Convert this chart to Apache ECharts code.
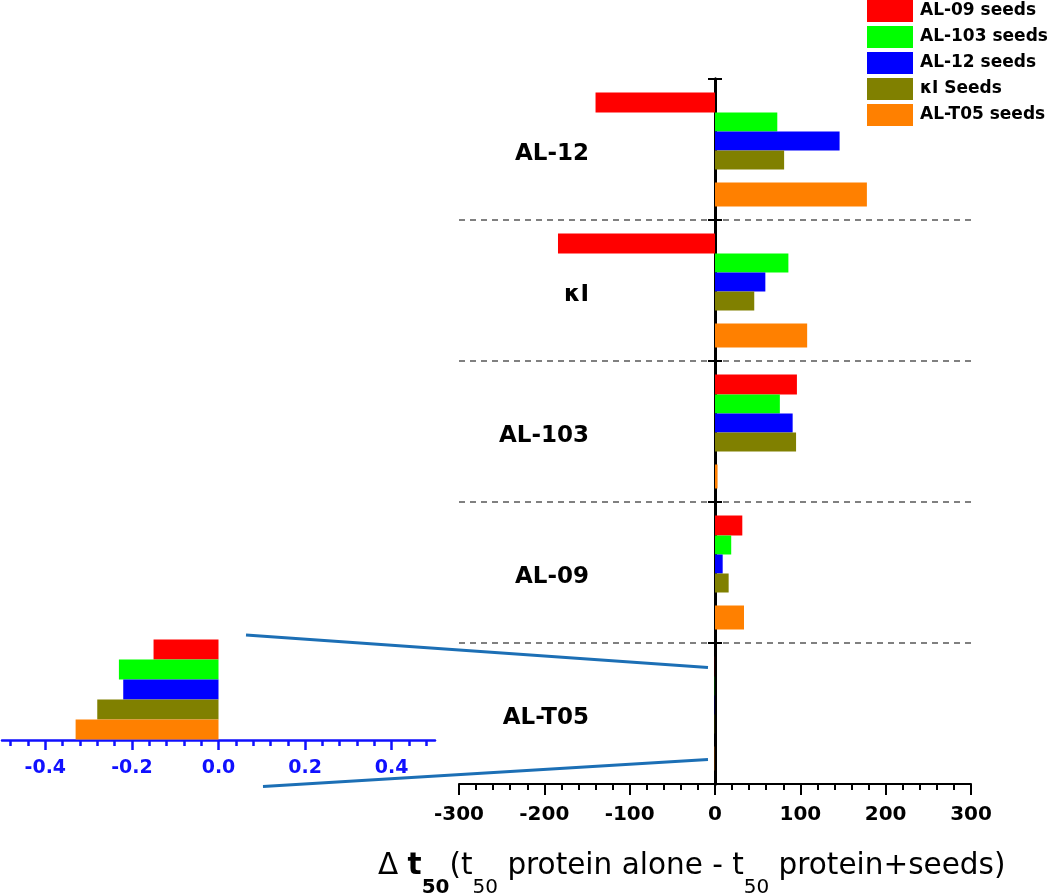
<!DOCTYPE html>
<html><head><meta charset="utf-8">
<script src="https://cdn.jsdelivr.net/npm/echarts@6/dist/echarts.min.js"></script>
<style>html,body{margin:0;padding:0;background:#fff}#c{width:1050px;height:894px}</style>
</head><body><div id="c"></div>
<script>
// ---- data ----
const categories = ['AL-12', 'κI', 'AL-103', 'AL-09', 'AL-T05'];
const seriesNames = ['AL-09 seeds', 'AL-103 seeds', 'AL-12 seeds', 'κI Seeds', 'AL-T05 seeds'];
const al09Seeds  = [-140, -184, 96, 32, -0.15];
const al103Seeds = [73, 86, 76, 19, -0.23];
const al12Seeds  = [146, 59, 91, 9, -0.22];
const kISeeds    = [81, 46, 95, 16, -0.28];
const alT05Seeds = [178, 108, 3, 34, -0.33];
const insetMinorTicks = [-0.48, -0.44, -0.4, -0.36, -0.32, -0.28, -0.24, -0.2, -0.16, -0.12, -0.08, -0.04, 0,
                         0.04, 0.08, 0.12, 0.16, 0.2, 0.24, 0.28, 0.32, 0.36, 0.4, 0.44, 0.48];
const insetMajorTicks = [-0.4, -0.2, 0, 0.2, 0.4];

// ---- styles ----
const FONT = 'DejaVu Sans';
const colors = ['#ff0000', '#00ff00', '#0000ff', '#808000', '#ff8000'];
const seriesData = [al09Seeds, al103Seeds, al12Seeds, kISeeds, alT05Seeds];
const mainBarWidths = [20, 19, 19, 19, 24];
const insetBlue = '#1010ff';

const chart = echarts.init(document.getElementById('c'));

const series = [];
for (let i = 0; i < 4; i++) {
  series.push({
    type: 'bar', name: seriesNames[i], data: seriesData[i],
    xAxisIndex: 0, yAxisIndex: 0, barWidth: mainBarWidths[i], barGap: '0%',
    itemStyle: { color: colors[i] }
  });
}
series.push({
  type: 'bar', name: '__gap', data: categories.map(() => '-'),
  xAxisIndex: 0, yAxisIndex: 0, barWidth: 13, barGap: '0%', silent: true,
  itemStyle: { color: 'rgba(0,0,0,0)' }
});
series.push({
  type: 'bar', name: seriesNames[4], data: seriesData[4],
  xAxisIndex: 0, yAxisIndex: 0, barWidth: mainBarWidths[4], barGap: '0%',
  itemStyle: { color: colors[4] }
});
for (let i = 0; i < 5; i++) {
  series.push({
    type: 'bar', name: seriesNames[i], data: [seriesData[i][4]],
    xAxisIndex: 2, yAxisIndex: 2, barWidth: 20, barGap: '0%',
    itemStyle: { color: colors[i] }
  });
}

const option = {
  animation: false,
  backgroundColor: '#fff',
  legend: {
    orient: 'vertical', left: 867, top: 0, padding: 0,
    itemWidth: 46, itemHeight: 22, itemGap: 4, icon: 'rect',
    data: seriesNames,
    textStyle: { fontFamily: FONT, fontWeight: 'bold', fontSize: 17, color: '#000', padding: [0, 0, 0, 2] }
  },
  grid: [
    { left: 459, right: 79, top: 79, bottom: 110 },
    { left: 2, width: 433, top: 639, height: 101 }
  ],
  xAxis: [
    {
      gridIndex: 0, type: 'value', min: -300, max: 300, interval: 100, position: 'bottom',
      axisLine: { show: true, onZero: false, lineStyle: { color: '#000', width: 2 } },
      axisTick: { show: true, length: 11, lineStyle: { color: '#000', width: 2 } },
      minorTick: { show: true, splitNumber: 5, length: 6, lineStyle: { color: '#000', width: 2 } },
      axisLabel: { margin: 21, fontFamily: FONT, fontWeight: 'bold', fontSize: 20, color: '#000' },
      splitLine: { show: false }
    },
    { gridIndex: 0, type: 'value', min: -300, max: 300, show: false },
    {
      gridIndex: 1, type: 'value', min: -0.5, max: 0.5, position: 'bottom',
      axisLine: { show: true, onZero: false, lineStyle: { color: insetBlue, width: 2.5 } },
      axisTick: { show: true, customValues: insetMinorTicks, length: 6, lineStyle: { color: insetBlue, width: 2.5 } },
      axisLabel: { show: false },
      splitLine: { show: false }
    },
    {
      gridIndex: 1, type: 'value', min: -0.5, max: 0.5, position: 'bottom',
      axisLine: { show: false, onZero: false },
      axisTick: { show: true, customValues: insetMajorTicks, length: 10, lineStyle: { color: insetBlue, width: 2.5 } },
      axisLabel: {
        show: true, customValues: insetMajorTicks, margin: 19,
        formatter: v => Number(v).toFixed(1),
        fontFamily: FONT, fontWeight: 'bold', fontSize: 19, color: insetBlue
      },
      splitLine: { show: false }
    }
  ],
  yAxis: [
    {
      gridIndex: 0, type: 'category', data: categories, inverse: true,
      axisLine: { show: true, onZero: true, lineStyle: { color: '#000', width: 3 } },
      axisTick: { show: true, length: 7, lineStyle: { color: '#000', width: 2 } },
      axisLabel: { margin: -130, fontFamily: FONT, fontWeight: 'bold', fontSize: 23, color: '#000',
        verticalAlign: 'top', lineHeight: 10 },
      splitLine: { show: true, showMinLine: false, showMaxLine: false,
        lineStyle: { color: '#808080', width: 2, type: [6, 5] } }
    },
    {
      gridIndex: 0, type: 'category', data: categories, inverse: true, position: 'right',
      axisLine: { show: true, onZero: true, onZeroAxisIndex: 1, lineStyle: { color: '#000', width: 3 } },
      axisTick: { show: true, inside: false, length: 7, lineStyle: { color: '#000', width: 2 } },
      axisLabel: { show: false },
      splitLine: { show: false }
    },
    { gridIndex: 1, type: 'category', data: [categories[4]], inverse: true, show: false }
  ],
  graphic: [
    { type: 'line', silent: true, shape: { x1: 246, y1: 635, x2: 708, y2: 667.5 },
      style: { stroke: '#1c6fb5', lineWidth: 3 } },
    { type: 'line', silent: true, shape: { x1: 263, y1: 786.5, x2: 708, y2: 759.5 },
      style: { stroke: '#1c6fb5', lineWidth: 3 } },
    {
      type: 'text', left: 378, top: 851, silent: true,
      style: {
        text: '{a|Δ }{b|t}{sb|50}{a|(t}{s|50}{a| protein alone - t}{s|50}{a| protein+seeds)}',
        fill: '#000',
        rich: {
          a:  { fontFamily: FONT, fontSize: 29.5, lineHeight: 64, fill: '#000' },
          b:  { fontFamily: FONT, fontSize: 29.5, fontWeight: 'bold', lineHeight: 64, fill: '#000' },
          sb: { fontFamily: FONT, fontSize: 20, fontWeight: 'bold', lineHeight: 20, verticalAlign: 'bottom', fill: '#000' },
          s:  { fontFamily: FONT, fontSize: 20, lineHeight: 20, verticalAlign: 'bottom', fill: '#000' }
        }
      }
    }
  ],
  series: series
};
chart.setOption(option);
</script>
</body></html>
